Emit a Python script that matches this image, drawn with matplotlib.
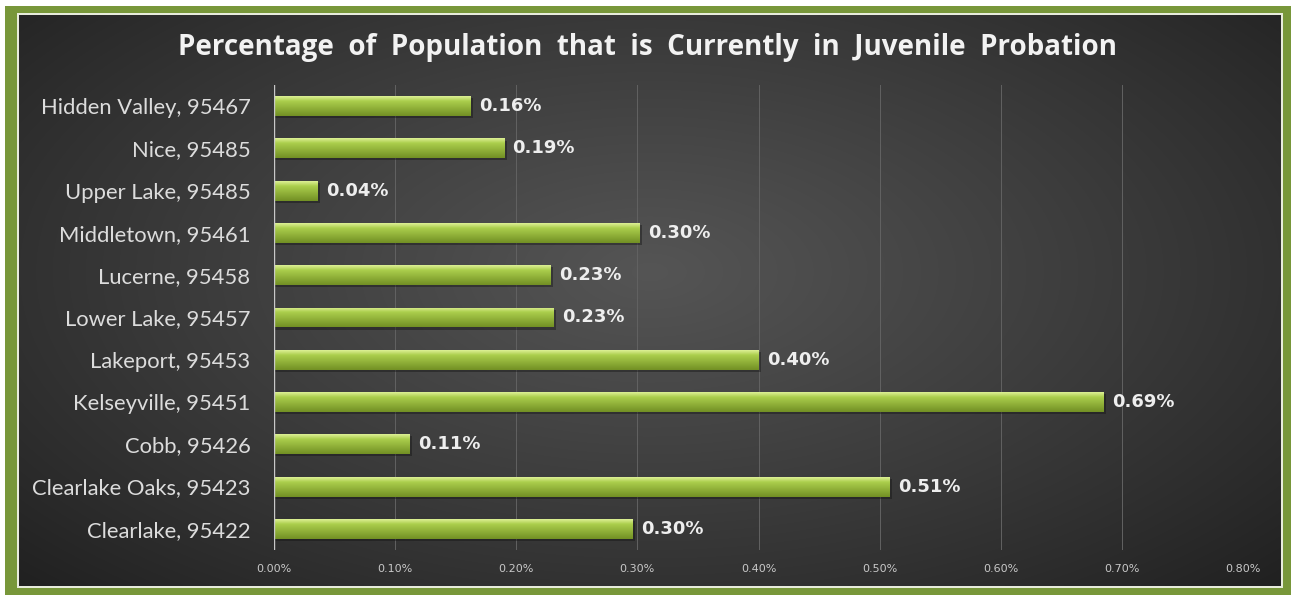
import numpy as np
import matplotlib
matplotlib.use("Agg")
import matplotlib.pyplot as plt
from matplotlib.patches import Rectangle

# values in percent
places = ["Clearlake, 95422", "Clearlake Oaks, 95423", "Cobb, 95426",
          "Kelseyville, 95451", "Lakeport, 95453", "Lower Lake, 95457",
          "Lucerne, 95458", "Middletown, 95461", "Upper Lake, 95485",
          "Nice, 95485", "Hidden Valley, 95467"]
pct = [0.296, 0.508, 0.112, 0.685, 0.40, 0.231, 0.228, 0.302, 0.036, 0.19, 0.162]
xticks = [0.0, 0.1, 0.2, 0.3, 0.4, 0.5, 0.6, 0.7, 0.8]

plt.rcParams['font.family'] = ['Lato', 'DejaVu Sans']
bold_font = ['Open Sans', 'DejaVu Sans']

W, H = 1295, 595
fig = plt.figure(figsize=(W / 100, H / 100), dpi=100)
fig.patch.set_facecolor("white")

# frame axes: green border, thin light line, dark radial panel
frame = fig.add_axes([0, 0, 1, 1], zorder=0)
frame.add_patch(Rectangle((5, 6), 1286, 595, facecolor="#78973a", edgecolor="none", zorder=1))
frame.add_patch(Rectangle((17, 13), 1266, 575, facecolor="#e8ecdc", edgecolor="none", zorder=1))
yy, xx = np.mgrid[-1:1:200j, -1:1:400j]
r = np.sqrt((xx * 0.9) ** 2 + ((yy + 0.1) * 0.8) ** 2)
shade = np.clip(1 - r / 1.3, 0, 1) ** 0.9
lo = np.array([0x1e, 0x1e, 0x1e]) / 255
hi = np.array([0x55, 0x55, 0x55]) / 255
img = lo + (hi - lo) * shade[..., None]
frame.imshow(img, aspect="auto", extent=[19, 1281, 586, 15], interpolation="bilinear", zorder=2)
frame.set_xlim(0, W)
frame.set_ylim(H, 0)
frame.set_axis_off()

fig.text(0.5, 1 - 48 / H, "Percentage  of  Population  that  is  Currently  in  Juvenile  Probation",
         ha="center", va="center", color="#f2f2f2", fontsize=20, fontweight="bold",
         family=bold_font)

ax = fig.add_axes([274 / W, 45 / H, 969 / W, 465 / H], zorder=2)
ax.patch.set_alpha(0)
y = np.arange(len(places))
bh = 0.47
bars = ax.barh(y, pct, height=bh, color="none", edgecolor="none", zorder=3)

# green gradient inside each bar
grad = np.linspace(0, 1, 64)[:, None]
top = np.array([0xdd, 0xf0, 0x95]) / 255
mid = np.array([0xab, 0xce, 0x4c]) / 255
bot = np.array([0x72, 0x90, 0x24]) / 255
gimg = np.where(grad < 0.25, top + (mid - top) * (grad / 0.25),
                mid + (bot - mid) * ((grad - 0.25) / 0.75))
gimg = gimg[:, None, :].repeat(2, axis=1)
for b in bars:
    x0, y0, w, h = b.get_x(), b.get_y(), b.get_width(), b.get_height()
    # shadow
    ax.add_patch(Rectangle((x0, y0 - 0.05), w + 0.002, h, facecolor="#111111",
                           alpha=0.4, edgecolor="none", zorder=2))
    im = ax.imshow(gimg, extent=[x0, x0 + w, y0, y0 + h], aspect="auto",
                   origin="upper", zorder=3, interpolation="bilinear")
    im.set_clip_path(b)

for yi, v in zip(y, pct):
    ax.text(v + 0.007, yi, f"{v:.2f}%", va="center", ha="left", color="#eeeeee",
            fontsize=13, fontweight="bold", family="DejaVu Sans", zorder=4)

ax.set_xlim(0, 0.8)
ax.set_ylim(-0.5, len(places) - 0.5)
ax.set_xticks(xticks)
ax.set_xticklabels([f"{t:.2f}%" for t in xticks], family="DejaVu Sans")
ax.set_yticks(y)
ax.set_yticklabels(places)
ax.tick_params(axis="y", length=0, pad=17, labelsize=15.8, labelcolor="#dcdcdc")
ax.tick_params(axis="x", length=0, pad=10, labelsize=8, labelcolor="#c8c8c8")
for s in ax.spines.values():
    s.set_visible(False)
ax.grid(axis="x", color="#626262", linewidth=0.7, zorder=1)
ax.axvline(0, color="#c8c8c8", linewidth=1, zorder=3)

fig.savefig("out.png", dpi=100, facecolor=fig.get_facecolor())
